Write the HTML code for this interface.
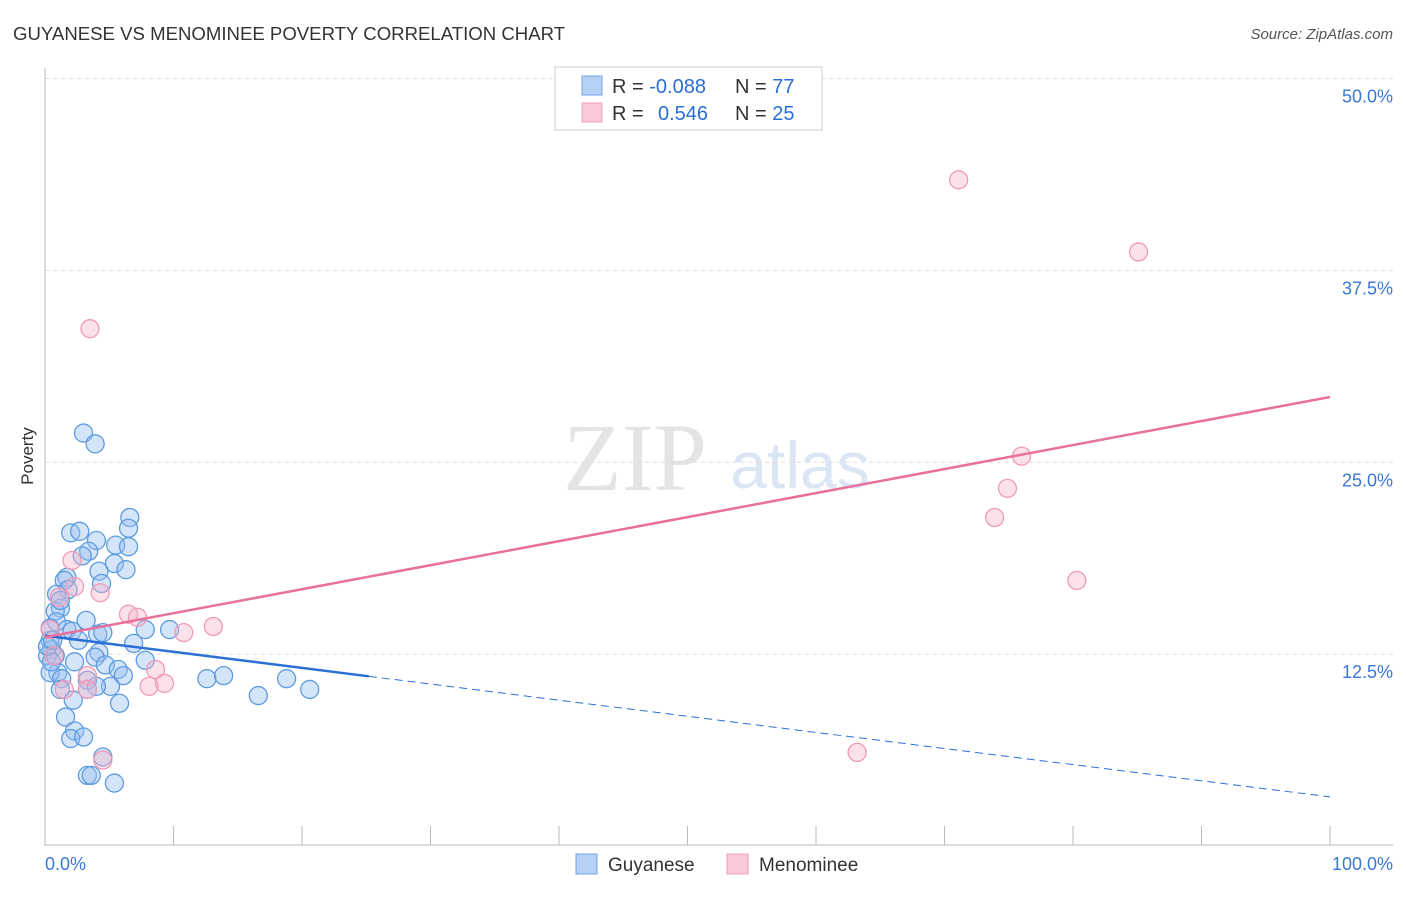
<!DOCTYPE html>
<html><head><meta charset="utf-8"><style>
body{margin:0;background:#fff;font-family:"Liberation Sans",sans-serif;}
</style></head><body>
<svg id="c" width="1406" height="892" xmlns="http://www.w3.org/2000/svg">
<text x="13" y="40" font-size="18.6" fill="#333">GUYANESE VS MENOMINEE POVERTY CORRELATION CHART</text>
<text x="1393" y="39" font-size="15" fill="#555" font-style="italic" text-anchor="end">Source: ZipAtlas.com</text>
<text x="33" y="456" font-size="17" fill="#333" text-anchor="middle" transform="rotate(-90 33 456)">Poverty</text>
<text x="635" y="490" font-size="96" fill="#e4e4e4" font-family="Liberation Serif" text-anchor="middle">ZIP</text>
<text x="800" y="488" font-size="66" fill="#dbe6f5" text-anchor="middle">atlas</text>
<g id="grid"></g><g id="pts"></g><g id="lines"></g>
<g>
<rect x="555" y="67" width="267" height="63" fill="#fff" stroke="#ccc"/>
<rect x="582" y="76" width="20" height="19" fill="#b5d1f5" stroke="#6fa3e6"/>
<rect x="582" y="103" width="20" height="19" fill="#f9c9d7" stroke="#ef9db6"/>
<text x="612" y="93" font-size="20" fill="#333">R = <tspan fill="#2a6fd6">-0.088</tspan></text>
<text x="735" y="93" font-size="20" fill="#333">N = <tspan fill="#2a6fd6">77</tspan></text>
<text x="612" y="120" font-size="20" fill="#333">R = <tspan fill="#2a6fd6" x="658">0.546</tspan></text>
<text x="735" y="120" font-size="20" fill="#333">N = <tspan fill="#2a6fd6">25</tspan></text>
</g>
<g>
<rect x="576" y="854" width="21" height="20" fill="#b5d1f5" stroke="#6fa3e6"/>
<text x="608" y="871" font-size="19" fill="#333">Guyanese</text>
<rect x="727" y="854" width="21" height="20" fill="#f9c9d7" stroke="#ef9db6"/>
<text x="759" y="871" font-size="19" fill="#333">Menominee</text>
</g>
<text x="45" y="870" font-size="18" fill="#3a78d6">0.0%</text>
<text x="1393" y="870" font-size="18" fill="#3a78d6" text-anchor="end">100.0%</text>
</svg>
<script>
const yTicks=[12.5,25,37.5,50];
const yTickLabels=["12.5%","25.0%","37.5%","50.0%"];
const xTicks=[0,10,20,30,40,50,60,70,80,90,100];
const guyX=[3.0,3.9,6.6,6.5,2.0,2.7,4.0,5.5,6.5,3.4,2.9,5.4,4.2,6.3,1.7,1.5,4.4,1.8,0.9,1.2,0.8,3.2,0.9,1.7,2.1,4.1,4.5,7.8,9.7,2.6,6.9,0.4,0.5,0.2,4.2,3.9,4.7,2.3,7.8,5.7,6.1,1.0,0.4,1.3,3.3,12.6,13.9,18.8,5.1,4.0,1.2,3.3,20.6,16.6,2.2,5.8,1.6,2.3,2.0,3.0,3.3,3.6,5.4,0.8,0.5,0.2,0.4,0.6,1.2,4.5];
const guyY=[26.9,26.2,21.4,20.7,20.4,20.5,19.9,19.6,19.5,19.2,18.9,18.4,17.9,18.0,17.5,17.3,17.1,16.7,16.4,15.5,15.3,14.7,14.6,14.1,14.0,13.8,13.9,14.1,14.1,13.4,13.2,13.4,12.8,12.4,12.6,12.3,11.8,12.0,12.1,11.5,11.1,11.3,11.3,10.9,10.8,10.9,11.1,10.9,10.4,10.4,10.2,10.2,10.2,9.8,9.5,9.3,8.4,7.5,7.0,7.1,4.6,4.6,4.1,12.4,12.0,13.0,14.2,13.4,16.0,5.8];
const menX=[3.5,71.1,85.1,76.0,74.9,73.9,80.3,63.2,2.1,2.3,4.3,1.1,6.5,7.2,10.8,13.1,0.4,0.7,8.6,8.1,9.3,3.3,3.3,1.5,4.5];
const menY=[33.7,43.4,38.7,25.4,23.3,21.4,17.3,6.1,18.6,16.9,16.5,16.2,15.1,14.9,13.9,14.3,14.1,12.4,11.5,10.4,10.6,11.1,10.2,10.2,5.6];
const guyTrend=[13.7,3.2], guySolidEnd=25.2;
const menTrend=[13.6,29.25];
const NS="http://www.w3.org/2000/svg";
const X=v=>45+v*12.85, Y=v=>846-v*15.35;
function mk(t,a,p){const e=document.createElementNS(NS,t);for(const k in a)e.setAttribute(k,a[k]);p.appendChild(e);return e;}
const grid=document.getElementById('grid');
yTicks.forEach((t,i)=>{
 const l=mk('line',{x1:45,x2:1393,y1:Y(t),y2:Y(t),stroke:'#ddd','stroke-dasharray':'4,4'},grid);
 
 
 const tx=mk('text',{x:1393,y:Y(t)+24,'font-size':18,fill:'#3a78d6','text-anchor':'end'},grid);
 tx.textContent=yTickLabels[i];
 
 
});
mk('line',{x1:45,x2:45,y1:68,y2:846,stroke:'#bbb'},grid);
mk('line',{x1:45,x2:1393,y1:845,y2:845,stroke:'#bbb'},grid);
xTicks.forEach(t=>{
 const l=mk('line',{x1:X(t),x2:X(t),y1:826,y2:845,stroke:'#bbb'},grid);
 
 
});
const pts=document.getElementById('pts');
guyX.forEach((x,i)=>{
 const c=mk('circle',{cx:X(x),cy:Y(guyY[i]),r:9,fill:'rgba(150,190,240,0.4)',stroke:'#5b9be0','stroke-width':1.3},pts);
 
 
});
menX.forEach((x,i)=>{
 const c=mk('circle',{cx:X(x),cy:Y(menY[i]),r:9,fill:'rgba(245,180,200,0.4)',stroke:'#f09ab5','stroke-width':1.3},pts);
 
 
});
const lines=document.getElementById('lines');
const gy=x=>guyTrend[0]+(guyTrend[1]-guyTrend[0])*x/100;
let l1=mk('line',{x1:X(0),y1:Y(gy(0)),x2:X(guySolidEnd),y2:Y(gy(guySolidEnd)),stroke:'#2a6fd6','stroke-width':2.5},lines);


let l2=mk('line',{x1:X(guySolidEnd),y1:Y(gy(guySolidEnd)),x2:X(100),y2:Y(gy(100)),stroke:'#2a6fd6','stroke-width':1,'stroke-dasharray':'8,5'},lines);


let l3=mk('line',{x1:X(0),y1:Y(menTrend[0]),x2:X(100),y2:Y(menTrend[1]),stroke:'#e8709a','stroke-width':2.5},lines);


</script>
</body></html>
